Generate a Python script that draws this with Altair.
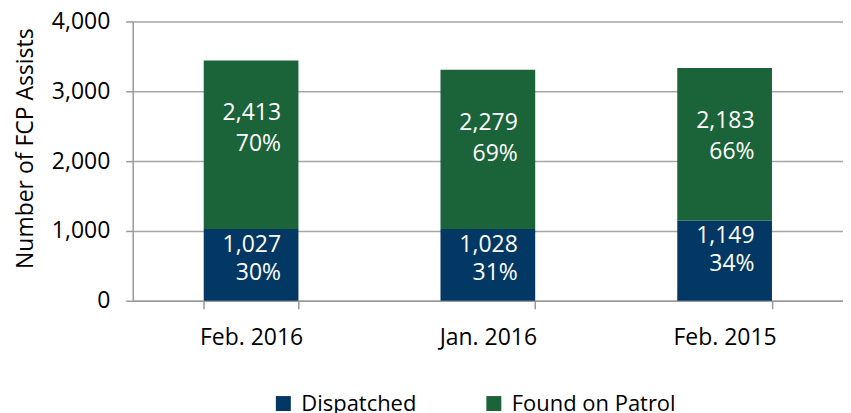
import altair as alt
import pandas as pd

categories = ["Feb. 2016", "Jan. 2016", "Feb. 2015"]
dispatched = [1027, 1028, 1149]
found_on_patrol = [2413, 2279, 2183]
dispatched_pct = ["30%", "31%", "34%"]
patrol_pct = ["70%", "69%", "66%"]
series_names = ["Dispatched", "Found on Patrol"]
colors = ["#033864", "#1B6338"]

rows = []
for i, c in enumerate(categories):
    rows.append({"cat": c, "series": series_names[0], "value": dispatched[i],
                 "top": dispatched[i],
                 "label": f"{dispatched[i]:,}\n{dispatched_pct[i]}"})
    rows.append({"cat": c, "series": series_names[1], "value": found_on_patrol[i],
                 "top": dispatched[i] + found_on_patrol[i],
                 "label": f"{found_on_patrol[i]:,}\n{patrol_pct[i]}"})
df = pd.DataFrame(rows)

FONT = "Open Sans"

x_enc = alt.X("cat:N", sort=categories, title=None,
              scale=alt.Scale(paddingInner=0.6, paddingOuter=0.3),
              axis=alt.Axis(labelAngle=0, labelFontSize=23, labelColor="#000000",
                            labelFont=FONT, labelPadding=18, tickBand="extent",
                            tickSize=8, tickColor="#999999", domainColor="#999999",
                            domainWidth=1.5, tickWidth=1.5))

bars = alt.Chart(df).mark_bar(stroke=None).encode(
    x=x_enc,
    y=alt.Y("value:Q", stack="zero",
            scale=alt.Scale(domain=[0, 4000]),
            axis=alt.Axis(values=[0, 1000, 2000, 3000, 4000], format=",.0f",
                          title="Number of FCP Assists", titleFontSize=23,
                          titleFont=FONT, titleFontWeight="normal", titleColor="#000000",
                          titlePadding=14, titleY=127,
                          labelFontSize=23, labelFont=FONT, labelColor="#000000",
                          labelPadding=16, tickSize=7, tickColor="#999999",
                          tickWidth=1.5, domainColor="#999999", domainWidth=1.5,
                          gridColor="#A6A6A6", gridWidth=1.5)),
    color=alt.Color("series:N", sort=series_names,
                    scale=alt.Scale(domain=series_names, range=colors),
                    legend=alt.Legend(title=None, orient="none", direction="horizontal",
                                      legendX=140, legendY=372,
                                      symbolType="square", symbolSize=225,
                                      symbolStrokeWidth=0, labelFontSize=22,
                                      labelFont=FONT, labelColor="#000000",
                                      labelOffset=7, columnPadding=66,
                                      labelLimit=400)),
    order=alt.Order("series:N", sort="ascending"),
)

text_blue = alt.Chart(df).transform_filter(
    alt.datum.series == series_names[0]
).mark_text(color="white", font=FONT, fontSize=23, align="right",
            baseline="middle", lineBreak="\n", lineHeight=28, dx=30, dy=16).encode(
    x=alt.X("cat:N", sort=categories),
    y=alt.Y("top:Q"),
    text="label:N",
)

text_green = alt.Chart(df).transform_filter(
    alt.datum.series == series_names[1]
).mark_text(color="white", font=FONT, fontSize=23, align="right",
            baseline="middle", lineBreak="\n", lineHeight=31, dx=30, dy=53).encode(
    x=alt.X("cat:N", sort=categories),
    y=alt.Y("top:Q"),
    text="label:N",
)

chart = alt.layer(bars, text_blue, text_green).properties(
    width=712, height=280,
    autosize=alt.AutoSizeParams(type="none"),
    padding={"left": 125, "top": 13, "right": 0, "bottom": 112},
    background="white",
).configure_view(stroke=None)

chart.save("out.html", embed_options={"renderer": "svg", "actions": False})
